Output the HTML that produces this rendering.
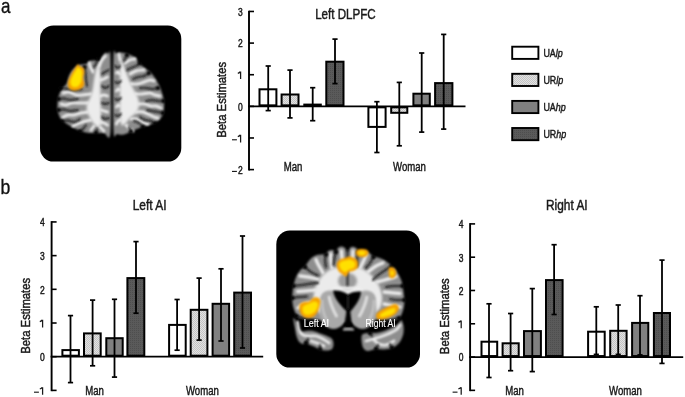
<!DOCTYPE html>
<html><head><meta charset="utf-8"><style>
html,body{margin:0;padding:0;background:#fff;}
svg{display:block;filter:blur(0.35px);}
text{font-family:"Liberation Sans", sans-serif;}
.t{opacity:0.999}
</style></head><body>
<svg width="685" height="397" viewBox="0 0 685 397">

<defs>
<pattern id="hatch" width="2" height="2" patternUnits="userSpaceOnUse">
 <rect width="2" height="2" fill="#e2e2e2"/><rect width="1" height="1" fill="#c4c4c4"/><rect x="1" y="1" width="1" height="1" fill="#c4c4c4"/>
</pattern>
<pattern id="dark" width="2" height="2" patternUnits="userSpaceOnUse">
 <rect width="2" height="2" fill="#5a5a5a"/><rect width="1" height="1" fill="#4e4e4e"/>
</pattern>
<filter id="bl1" x="-20%" y="-20%" width="140%" height="140%"><feGaussianBlur stdDeviation="0.8"/></filter>
<filter id="bl2" x="-20%" y="-20%" width="140%" height="140%"><feGaussianBlur stdDeviation="1.5"/></filter>
<filter id="bl3" x="-30%" y="-30%" width="160%" height="160%"><feGaussianBlur stdDeviation="2.2"/></filter>
<radialGradient id="og" cx="50%" cy="50%" r="50%">
 <stop offset="0" stop-color="#ffe000"/><stop offset="0.6" stop-color="#ffc800"/><stop offset="1" stop-color="#f59a00"/>
</radialGradient>
</defs>

<rect width="685" height="397" fill="#fff"/>
<text x="0.9" y="12.8" font-size="20" fill="#111" stroke="#111" stroke-width="0.35" transform="translate(0.9,0) scale(0.85,1) translate(-0.9,0)" opacity="0.999">a</text>
<text x="0.6" y="194.2" font-size="20" fill="#111" stroke="#111" stroke-width="0.35" transform="translate(0.6,0) scale(0.88,1) translate(-0.6,0)" opacity="0.999">b</text>
<rect x="40" y="25.4" width="141.3" height="136.2" rx="13.5" fill="#000"/>
<g filter="url(#bl1)">
<path d="M110.5,58 C110.2,44.9 109.4,54.3 108.5,53.5 C107.6,52.7 106.1,52.4 105.0,53.0 C103.9,53.6 103.0,55.7 102.0,57.0 C101.0,58.3 100.2,60.4 99.0,61.0 C97.8,61.6 96.5,60.5 95.0,60.5 C93.5,60.5 91.5,60.4 90.0,61.0 C88.5,61.6 87.8,63.3 86.0,64.0 C84.2,64.7 81.2,64.1 79.0,65.0 C76.8,65.9 74.7,67.7 73.0,69.5 C71.3,71.3 70.0,73.8 69.0,76.0 C68.0,78.2 68.1,80.9 67.0,83.0 C65.9,85.1 63.8,86.5 62.5,88.5 C61.2,90.5 59.8,92.4 59.0,95.0 C58.2,97.6 57.7,101.2 57.5,104.0 C57.3,106.8 57.4,109.5 58.0,112.0 C58.6,114.5 59.5,117.0 61.0,119.0 C62.5,121.0 64.5,122.3 67.0,124.0 C69.5,125.7 72.8,127.6 76.0,129.0 C79.2,130.4 82.7,131.8 86.0,132.5 C89.3,133.2 93.0,132.9 96.0,133.0 C99.0,133.1 101.6,133.2 104.0,133.0 C106.4,132.8 109.4,144.5 110.5,132.0 C111.6,119.5 110.8,71.1 110.5,58.0 Z" fill="#8e8e8e"/>
<path d="M113.5,57 C113.9,44.2 114.8,54.2 116.0,53.5 C117.2,52.8 119.0,52.4 121.0,52.5 C123.0,52.6 125.7,53.2 128.0,54.0 C130.3,54.8 133.2,56.0 135.0,57.5 C136.8,59.0 137.5,61.3 139.0,63.0 C140.5,64.7 142.2,66.0 144.0,67.5 C145.8,69.0 148.2,70.2 150.0,72.0 C151.8,73.8 153.5,75.8 155.0,78.0 C156.5,80.2 157.8,82.5 159.0,85.0 C160.2,87.5 161.2,90.2 162.0,93.0 C162.8,95.8 163.8,98.8 164.0,102.0 C164.2,105.2 164.2,109.2 163.5,112.0 C162.8,114.8 161.9,117.0 160.0,119.0 C158.1,121.0 155.0,122.7 152.0,124.0 C149.0,125.3 145.2,125.9 142.0,127.0 C138.8,128.1 136.0,129.2 133.0,130.5 C130.0,131.8 126.7,133.9 124.0,134.5 C121.3,135.1 118.8,134.8 117.0,134.0 C115.2,133.2 114.1,142.8 113.5,130.0 C112.9,117.2 113.1,69.8 113.5,57.0 Z" fill="#8e8e8e"/>
</g>
<g filter="url(#bl2)">
<path d="M99,63 C98.2,62.0 96.8,67.2 96.0,70.0 C95.2,72.8 94.6,76.7 94.0,80.0 C93.4,83.3 93.2,87.0 92.5,90.0 C91.8,93.0 90.9,95.7 90.0,98.0 C89.1,100.3 87.5,101.8 87.0,104.0 C86.5,106.2 86.5,108.7 87.0,111.0 C87.5,113.3 88.8,115.8 90.0,118.0 C91.2,120.2 92.7,122.5 94.0,124.0 C95.3,125.5 96.8,127.0 98.0,127.0 C99.2,127.0 100.5,126.8 101.0,124.0 C101.5,121.2 101.1,115.3 101.0,110.0 C100.9,104.7 100.6,97.7 100.5,92.0 C100.4,86.3 100.8,80.8 100.5,76.0 C100.2,71.2 99.8,64.0 99.0,63.0 Z" fill="#ececec"/><path d="M121,59 C121.7,58.0 123.0,63.5 124.0,66.0 C125.0,68.5 126.0,71.3 127.0,74.0 C128.0,76.7 128.8,79.3 130.0,82.0 C131.2,84.7 132.7,87.3 134.0,90.0 C135.3,92.7 137.2,95.3 138.0,98.0 C138.8,100.7 139.3,103.5 139.0,106.0 C138.7,108.5 137.5,111.0 136.0,113.0 C134.5,115.0 131.8,116.2 130.0,118.0 C128.2,119.8 126.5,123.0 125.0,124.0 C123.5,125.0 121.8,126.7 121.0,124.0 C120.2,121.3 120.2,113.7 120.0,108.0 C119.8,102.3 120.0,96.0 120.0,90.0 C120.0,84.0 119.8,77.2 120.0,72.0 C120.2,66.8 120.3,60.0 121.0,59.0 Z" fill="#ececec"/>
</g>
<g filter="url(#bl1)" fill="none" stroke="#ececec" stroke-linecap="round" stroke-linejoin="round">
<path d="M99,66 C99.5,65.0 100.9,61.7 102.0,60.0 C103.1,58.3 104.9,56.7 105.5,56.0  M93,72 C92.5,71.0 90.6,67.5 90.0,66.0 C89.4,64.5 89.6,63.5 89.5,63.0  M91,94 C89.5,94.2 84.5,94.8 82.0,95.0 C79.5,95.2 78.2,95.5 76.0,95.0 C73.8,94.5 71.2,92.3 69.0,92.0 C66.8,91.7 64.0,92.8 63.0,93.0  M88,103 C86.7,103.0 82.7,103.0 80.0,103.0 C77.3,103.0 74.3,102.7 72.0,103.0 C69.7,103.3 67.8,104.8 66.0,105.0 C64.2,105.2 61.8,104.2 61.0,104.0  M88,112 C86.8,112.2 83.3,112.5 81.0,113.0 C78.7,113.5 76.2,114.7 74.0,115.0 C71.8,115.3 69.8,114.7 68.0,115.0 C66.2,115.3 63.8,116.7 63.0,117.0  M91,120 C90.2,120.2 87.8,120.5 86.0,121.0 C84.2,121.5 82.2,122.2 80.0,123.0 C77.8,123.8 74.2,125.5 73.0,126.0  M94,126 L91,130 M100,127 L104,131 M100,80 C100.7,79.8 102.8,79.5 104.0,79.0 C105.2,78.5 106.9,77.3 107.5,77.0  M100,96 C100.7,95.8 102.8,95.0 104.0,95.0 C105.2,95.0 106.9,95.8 107.5,96.0  M101,110 C101.5,110.2 102.9,110.7 104.0,111.0 C105.1,111.3 106.9,111.8 107.5,112.0  M100,122 C100.7,122.2 102.8,122.5 104.0,123.0 C105.2,123.5 106.9,124.7 107.5,125.0 " stroke-width="2.9"/><path d="M120,60 L119,54.5 M125,63 C125.8,62.5 128.3,60.7 130.0,60.0 C131.7,59.3 134.2,59.2 135.0,59.0  M130,74 C131.0,73.5 133.7,71.7 136.0,71.0 C138.3,70.3 142.7,70.2 144.0,70.0  M131,84 C132.0,84.0 134.8,84.3 137.0,84.0 C139.2,83.7 141.8,82.7 144.0,82.0 C146.2,81.3 148.3,80.2 150.0,80.0 C151.7,79.8 153.3,80.8 154.0,81.0  M135,94 C136.2,94.0 139.5,94.2 142.0,94.0 C144.5,93.8 147.8,92.8 150.0,93.0 C152.2,93.2 153.3,94.5 155.0,95.0 C156.7,95.5 159.2,95.8 160.0,96.0  M138,104 C139.2,104.0 142.8,103.7 145.0,104.0 C147.2,104.3 149.2,105.7 151.0,106.0 C152.8,106.3 154.3,105.7 156.0,106.0 C157.7,106.3 160.2,107.7 161.0,108.0  M136,112 C137.2,112.0 140.7,111.5 143.0,112.0 C145.3,112.5 148.2,114.2 150.0,115.0 C151.8,115.8 152.7,116.5 154.0,117.0 C155.3,117.5 157.3,117.8 158.0,118.0  M131,119 C131.8,119.0 134.2,118.5 136.0,119.0 C137.8,119.5 140.0,121.2 142.0,122.0 C144.0,122.8 147.0,123.7 148.0,124.0  M126,125 C126.7,125.7 128.8,128.0 130.0,129.0 C131.2,130.0 132.5,130.7 133.0,131.0  M120,74 C119.7,73.7 118.6,72.2 118.0,72.0 C117.4,71.8 116.8,72.8 116.5,73.0  M120,90 C119.7,89.8 118.6,88.8 118.0,89.0 C117.4,89.2 116.8,90.7 116.5,91.0  M120,106 C119.7,105.8 118.6,104.8 118.0,105.0 C117.4,105.2 116.8,106.7 116.5,107.0  M121,120 C120.5,120.2 118.8,120.3 118.0,121.0 C117.2,121.7 116.8,123.5 116.5,124.0 " stroke-width="2.9"/>
</g>
<g filter="url(#bl1)" fill="none" stroke="#1e1e1e" stroke-linecap="round" stroke-linejoin="round" stroke-width="1.9">
<path d="M60,88 C61.0,88.1 63.7,88.2 66.0,88.5 C68.3,88.8 71.3,89.9 74.0,90.0 C76.7,90.1 80.7,89.2 82.0,89.0  M58.5,99 C59.4,98.9 62.1,98.3 64.0,98.5 C65.9,98.7 67.7,99.9 70.0,100.0 C72.3,100.1 76.7,99.2 78.0,99.0  M58.5,110 C59.4,109.9 62.1,109.3 64.0,109.5 C65.9,109.7 67.7,110.9 70.0,111.0 C72.3,111.1 76.7,110.2 78.0,110.0  M62,121.5 C63.0,121.3 66.0,120.4 68.0,120.5 C70.0,120.6 72.0,122.2 74.0,122.0 C76.0,121.8 79.0,119.5 80.0,119.0  M80,131.5 C80.7,130.9 83.0,129.1 84.0,128.0 C85.0,126.9 85.7,125.5 86.0,125.0  M84.5,67 C84.7,68.2 85.2,71.8 85.5,74.0 C85.8,76.2 85.8,78.0 86.0,80.0 C86.2,82.0 86.8,85.0 87.0,86.0  M98,58 C97.7,59.0 96.7,62.5 96.0,64.0 C95.3,65.5 94.3,66.5 94.0,67.0  M96,133 L97,129 M109,70 C108.3,70.3 106.2,71.3 105.0,72.0 C103.8,72.7 102.5,73.7 102.0,74.0  M109,86 C108.3,86.3 106.2,88.0 105.0,88.0 C103.8,88.0 102.5,86.3 102.0,86.0  M109,103 C108.3,103.2 106.2,104.0 105.0,104.0 C103.8,104.0 102.5,103.2 102.0,103.0  M109,118 C108.3,118.2 106.2,119.2 105.0,119.0 C103.8,118.8 102.5,117.3 102.0,117.0 "/><path d="M127,55 L124,61 M140,63 C139.3,63.5 137.5,65.2 136.0,66.0 C134.5,66.8 132.5,67.3 131.0,68.0 C129.5,68.7 127.7,69.7 127.0,70.0  M149,73 C148.2,73.5 145.8,75.3 144.0,76.0 C142.2,76.7 139.8,76.5 138.0,77.0 C136.2,77.5 133.8,78.7 133.0,79.0  M158,88 C157.2,88.2 155.0,89.0 153.0,89.0 C151.0,89.0 148.2,88.2 146.0,88.0 C143.8,87.8 141.0,88.0 140.0,88.0  M163.5,101 C162.6,101.0 159.9,101.2 158.0,101.0 C156.1,100.8 154.0,100.0 152.0,100.0 C150.0,100.0 147.0,100.8 146.0,101.0  M163,113 C162.2,112.8 159.8,112.3 158.0,112.0 C156.2,111.7 153.8,111.3 152.0,111.0 C150.2,110.7 147.8,110.2 147.0,110.0  M155,123.5 C154.3,123.1 152.7,121.6 151.0,121.0 C149.3,120.4 146.8,120.7 145.0,120.0 C143.2,119.3 140.8,117.5 140.0,117.0  M143,127 C142.3,126.3 140.5,124.0 139.0,123.0 C137.5,122.0 134.8,121.3 134.0,121.0  M131,131.5 L129,127 M115,66 C115.5,66.3 117.2,68.0 118.0,68.0 C118.8,68.0 119.7,66.3 120.0,66.0  M115,82 C115.5,82.2 117.0,83.2 118.0,83.0 C119.0,82.8 120.5,81.3 121.0,81.0  M115,99 C115.5,99.2 117.0,100.2 118.0,100.0 C119.0,99.8 120.5,98.3 121.0,98.0  M115,115 C115.5,115.2 117.0,116.2 118.0,116.0 C119.0,115.8 120.5,114.3 121.0,114.0 "/>
</g>
<g filter="url(#bl1)" fill="#000"><circle cx="60" cy="88" r="2.1"/><circle cx="58.5" cy="99" r="2.1"/><circle cx="58.5" cy="110" r="2.1"/><circle cx="62" cy="121.5" r="2.1"/><circle cx="80" cy="131.5" r="2.1"/><circle cx="84.5" cy="67" r="2.1"/><circle cx="98" cy="58" r="2.1"/><circle cx="96" cy="133" r="2.1"/><circle cx="127" cy="55" r="2.1"/><circle cx="140" cy="63" r="2.1"/><circle cx="149" cy="73" r="2.1"/><circle cx="158" cy="88" r="2.1"/><circle cx="163.5" cy="101" r="2.1"/><circle cx="163" cy="113" r="2.1"/><circle cx="155" cy="123.5" r="2.1"/><circle cx="143" cy="127" r="2.1"/><circle cx="131" cy="131.5" r="2.1"/></g>
<path d="M112,52 L112,138" stroke="#000" stroke-width="2.4" filter="url(#bl1)"/>
<g filter="url(#bl1)">
<path d="M78,64.2 C78.8,64.0 79.1,65.9 80.0,66.5 C80.9,67.1 82.8,66.9 83.5,68.0 C84.2,69.1 84.3,71.3 84.3,73.0 C84.2,74.7 83.2,76.2 83.2,78.0 C83.2,79.8 84.5,82.3 84.3,84.0 C84.1,85.7 83.2,87.0 82.0,88.0 C80.8,89.0 78.7,89.9 77.0,90.3 C75.3,90.7 73.4,90.8 72.0,90.3 C70.6,89.8 69.2,88.9 68.5,87.5 C67.8,86.1 67.8,83.8 68.0,82.0 C68.2,80.2 69.2,78.7 70.0,77.0 C70.8,75.3 71.6,73.6 72.5,72.0 C73.4,70.4 74.6,68.8 75.5,67.5 C76.4,66.2 77.2,64.4 78.0,64.2 Z" fill="#f5a000"/>
<path d="M78,67.5 C79.0,67.4 80.9,69.1 81.5,70.5 C82.1,71.9 81.9,74.1 81.8,76.0 C81.7,77.9 81.7,80.2 81.0,82.0 C80.3,83.8 78.9,85.8 77.5,86.5 C76.1,87.2 73.7,87.2 72.5,86.5 C71.3,85.8 70.5,83.8 70.5,82.0 C70.5,80.2 71.7,77.8 72.5,76.0 C73.3,74.2 74.6,72.4 75.5,71.0 C76.4,69.6 77.0,67.6 78.0,67.5 Z" fill="#ffe400"/>
</g>
<rect x="276.3" y="230.6" width="143.7" height="137" rx="13.5" fill="#000"/>
<g filter="url(#bl1)">
<path d="M347.5,252 C348.3,252.0 349.1,248.9 350.0,248.0 C350.9,247.1 351.9,246.7 353.0,246.8 C354.1,246.9 355.6,247.7 356.5,248.5 C357.4,249.3 357.6,251.2 358.5,251.5 C359.4,251.8 360.8,250.5 362.0,250.5 C363.2,250.5 364.7,250.8 366.0,251.3 C367.3,251.8 368.8,252.6 370.0,253.5 C371.2,254.4 371.7,255.8 373.0,256.5 C374.3,257.2 376.2,256.9 378.0,257.5 C379.8,258.1 382.2,259.0 384.0,260.0 C385.8,261.0 387.8,262.4 389.0,263.5 C390.2,264.6 390.5,265.5 391.5,266.5 C392.5,267.5 393.8,268.0 395.0,269.5 C396.2,271.0 397.9,273.6 399.0,275.5 C400.1,277.4 400.9,279.2 401.5,281.0 C402.1,282.8 402.2,284.2 402.5,286.0 C402.8,287.8 403.2,289.7 403.5,292.0 C403.8,294.3 404.2,297.7 404.3,300.0 C404.4,302.3 404.3,304.0 404.0,306.0 C403.7,308.0 403.2,310.2 402.5,312.0 C401.8,313.8 401.1,315.8 400.0,317.0 C398.9,318.2 398.3,319.1 396.0,319.5 C393.7,319.9 389.3,319.5 386.0,319.5 C382.7,319.5 379.3,319.2 376.0,319.5 C372.7,319.8 369.3,320.6 366.0,321.0 C362.7,321.4 359.0,321.8 356.0,322.0 C353.0,322.2 350.7,322.0 348.0,322.0 C345.3,322.0 343.0,322.2 340.0,322.0 C337.0,321.8 333.3,321.3 330.0,321.0 C326.7,320.7 323.3,320.4 320.0,320.0 C316.7,319.6 312.8,318.8 310.0,318.5 C307.2,318.2 305.0,318.8 303.0,318.5 C301.0,318.2 299.2,317.9 298.0,317.0 C296.8,316.1 296.3,314.8 295.5,313.0 C294.7,311.2 293.5,308.3 293.0,306.0 C292.5,303.7 292.4,301.3 292.3,299.0 C292.2,296.7 292.4,294.2 292.6,292.0 C292.8,289.8 293.1,288.0 293.5,286.0 C293.9,284.0 294.4,281.8 295.0,280.0 C295.6,278.2 296.1,276.7 297.0,275.0 C297.9,273.3 299.2,271.4 300.5,270.0 C301.8,268.6 303.8,267.8 305.0,266.5 C306.2,265.2 306.8,263.5 308.0,262.0 C309.2,260.5 310.5,258.7 312.0,257.5 C313.5,256.3 315.3,255.5 317.0,255.0 C318.7,254.5 320.5,254.7 322.0,254.5 C323.5,254.3 325.0,254.5 326.0,254.0 C327.0,253.5 327.1,252.2 327.8,251.5 C328.6,250.8 329.6,250.2 330.5,250.0 C331.4,249.8 332.6,249.9 333.5,250.3 C334.4,250.7 335.1,252.9 335.8,252.5 C336.6,252.1 337.1,249.0 338.0,248.0 C338.9,247.0 340.3,246.5 341.5,246.5 C342.7,246.5 344.0,247.1 345.0,248.0 C346.0,248.9 346.7,252.0 347.5,252.0 Z" fill="#8e8e8e"/>
<path d="M294.5,318 C295.1,319.0 296.1,323.8 297.0,326.0 C297.9,328.2 298.5,330.7 300.0,331.5 C301.5,332.3 303.8,331.1 306.0,331.0 C308.2,330.9 310.7,330.6 313.0,331.0 C315.3,331.4 317.7,332.7 320.0,333.5 C322.3,334.3 325.0,335.1 327.0,336.0 C329.0,336.9 330.9,337.7 332.0,339.0 C333.1,340.3 333.5,342.3 333.5,344.0 C333.5,345.7 333.1,347.9 332.0,349.0 C330.9,350.1 329.0,350.4 327.0,350.5 C325.0,350.6 322.2,350.2 320.0,349.5 C317.8,348.8 315.8,347.3 314.0,346.5 C312.2,345.7 310.3,345.2 309.0,344.5 C307.7,343.8 307.0,342.6 306.0,342.5 C305.0,342.4 304.2,344.2 303.0,344.0 C301.8,343.8 300.1,342.8 299.0,341.5 C297.9,340.2 297.2,338.2 296.5,336.0 C295.8,333.8 295.5,330.7 295.0,328.0 C294.5,325.3 293.6,321.7 293.5,320.0 C293.4,318.3 293.9,317.0 294.5,318.0 Z" fill="#8e8e8e"/>
<path d="M362,335 C363.0,333.2 365.7,333.3 368.0,333.0 C370.3,332.7 373.3,333.3 376.0,333.0 C378.7,332.7 381.3,331.9 384.0,331.0 C386.7,330.1 389.7,328.6 392.0,327.5 C394.3,326.4 396.5,325.8 398.0,324.5 C399.5,323.2 400.1,319.8 401.0,320.0 C401.9,320.2 403.2,323.5 403.5,326.0 C403.8,328.5 403.8,332.2 403.0,335.0 C402.2,337.8 400.8,340.8 399.0,343.0 C397.2,345.2 394.5,346.9 392.0,348.0 C389.5,349.1 386.7,349.3 384.0,349.5 C381.3,349.7 378.7,348.8 376.0,349.0 C373.3,349.2 370.0,351.0 368.0,351.0 C366.0,351.0 365.0,350.2 364.0,349.0 C363.0,347.8 362.3,346.3 362.0,344.0 C361.7,341.7 361.0,336.8 362.0,335.0 Z" fill="#8e8e8e"/>
</g>
<g filter="url(#bl2)">
<path d="M318,282 C319.7,279.0 321.3,276.3 324.0,274.0 C326.7,271.7 330.2,269.2 334.0,268.0 C337.8,266.8 342.7,267.0 347.0,267.0 C351.3,267.0 356.2,266.8 360.0,268.0 C363.8,269.2 367.0,271.3 370.0,274.0 C373.0,276.7 376.0,280.3 378.0,284.0 C380.0,287.7 381.7,292.0 382.0,296.0 C382.3,300.0 381.7,305.0 380.0,308.0 C378.3,311.0 375.0,312.7 372.0,314.0 C369.0,315.3 366.2,315.5 362.0,316.0 C357.8,316.5 352.0,317.0 347.0,317.0 C342.0,317.0 336.5,316.7 332.0,316.0 C327.5,315.3 323.0,314.8 320.0,313.0 C317.0,311.2 315.0,308.5 314.0,305.0 C313.0,301.5 313.3,295.8 314.0,292.0 C314.7,288.2 316.3,285.0 318.0,282.0 Z" fill="#ebebeb"/>
</g>
<g filter="url(#bl1)" fill="none" stroke="#eaeaea" stroke-linecap="round" stroke-linejoin="round" stroke-width="3.4">
<path d="M344,268 C343.7,266.3 342.4,260.8 342.0,258.0 C341.6,255.2 341.6,252.2 341.5,251.0  M332,268 C331.8,266.5 331.0,261.3 330.8,259.0 C330.6,256.7 330.8,254.8 330.8,254.0  M323,273 C322.2,271.5 319.2,266.2 318.0,264.0 C316.8,261.8 316.3,260.2 316.0,259.5  M318,279 C316.3,278.7 311.0,277.5 308.0,277.0 C305.0,276.5 301.3,276.2 300.0,276.0  M316,290 C314.2,290.2 308.1,290.8 305.0,291.0 C301.9,291.2 298.8,291.4 297.5,291.5  M314,302 C312.3,302.3 306.7,303.0 304.0,304.0 C301.3,305.0 299.0,307.3 298.0,308.0  M351,268 C351.2,266.3 352.2,260.8 352.5,258.0 C352.8,255.2 352.9,252.2 353.0,251.0  M360,268 C360.7,266.7 363.0,262.2 364.0,260.0 C365.0,257.8 365.7,255.8 366.0,255.0  M368,272 C369.3,271.0 373.5,267.5 376.0,266.0 C378.5,264.5 381.8,263.5 383.0,263.0  M377,282 C378.8,281.5 384.8,279.9 388.0,279.0 C391.2,278.1 394.7,276.9 396.0,276.5  M384,292 C385.7,292.2 391.3,292.8 394.0,293.0 C396.7,293.2 399.0,293.4 400.0,293.5  M384,304 C385.7,304.3 391.3,305.5 394.0,306.0 C396.7,306.5 399.0,306.8 400.0,307.0 "/><path d="M297.5,322 C297.8,323.3 298.1,327.8 299.0,330.0 C299.9,332.2 301.3,334.0 303.0,335.0 C304.7,336.0 306.8,335.8 309.0,336.0 C311.2,336.2 313.7,335.5 316.0,336.0 C318.3,336.5 320.8,337.8 323.0,339.0 C325.2,340.2 328.0,342.3 329.0,343.0  M311,341 C312.0,341.3 314.8,342.2 317.0,343.0 C319.2,343.8 322.8,345.5 324.0,346.0  M366,341 C367.2,340.7 370.7,339.7 373.0,339.0 C375.3,338.3 377.5,337.8 380.0,337.0 C382.5,336.2 385.3,335.2 388.0,334.0 C390.7,332.8 394.0,331.5 396.0,330.0 C398.0,328.5 399.3,325.8 400.0,325.0  M374,340 C374.8,340.7 377.0,343.2 379.0,344.0 C381.0,344.8 383.5,345.5 386.0,345.0 C388.5,344.5 392.7,341.7 394.0,341.0 " stroke-width="2.8"/>
</g>
<g filter="url(#bl2)">
<ellipse cx="347.5" cy="281" rx="9.5" ry="8" fill="#9c9c9c"/>
</g>
<g filter="url(#bl1)" fill="none" stroke="#1c1c1c" stroke-linecap="round" stroke-linejoin="round" stroke-width="2">
<path d="M336,252 C335.8,253.0 334.9,255.8 334.5,258.0 C334.1,260.2 333.7,263.8 333.5,265.0  M326,254.5 C325.8,255.4 325.0,257.9 325.0,260.0 C325.0,262.1 325.8,265.8 326.0,267.0  M305,267 C306.0,267.8 308.8,270.6 311.0,272.0 C313.2,273.4 316.8,274.9 318.0,275.5  M293.5,286 C294.9,285.8 298.9,285.4 302.0,285.0 C305.1,284.6 309.3,283.8 312.0,283.5 C314.7,283.2 317.0,283.1 318.0,283.0  M292.4,298 C293.7,297.8 297.6,297.2 300.0,297.0 C302.4,296.8 305.8,296.6 307.0,296.5  M296,316 C297.3,316.3 301.3,317.3 304.0,318.0 C306.7,318.7 310.7,319.7 312.0,320.0  M358.5,252 C358.2,253.3 357.2,257.7 357.0,260.0 C356.8,262.3 357.0,265.0 357.0,266.0  M373.5,257 C372.9,258.0 371.2,261.2 370.0,263.0 C368.8,264.8 366.7,267.2 366.0,268.0  M391.5,266.5 C390.2,267.2 386.4,269.4 384.0,271.0 C381.6,272.6 378.8,274.5 377.0,276.0 C375.2,277.5 373.7,279.3 373.0,280.0  M402.5,286 C401.1,286.0 396.8,285.8 394.0,286.0 C391.2,286.2 387.3,286.8 386.0,287.0  M404.3,300 C402.9,300.0 398.4,300.2 396.0,300.0 C393.6,299.8 391.0,299.2 390.0,299.0  M399,318 C397.8,318.3 394.5,319.3 392.0,320.0 C389.5,320.7 385.3,321.7 384.0,322.0 "/><path d="M306,343 L308,339 M320,349.5 L320,345 M376,349 L378,345 M392,348 L390,344 M370,333 L372,336"/>
</g>
<g filter="url(#bl1)" fill="#000"><circle cx="336" cy="252" r="2.1"/><circle cx="326" cy="254.5" r="2.1"/><circle cx="305" cy="267" r="2.1"/><circle cx="293.5" cy="286" r="2.1"/><circle cx="292.4" cy="298" r="2.1"/><circle cx="296" cy="316" r="2.1"/><circle cx="358.5" cy="252" r="2.1"/><circle cx="373.5" cy="257" r="2.1"/><circle cx="391.5" cy="266.5" r="2.1"/><circle cx="402.5" cy="286" r="2.1"/><circle cx="404.3" cy="300" r="2.1"/><circle cx="399" cy="318" r="2.1"/><circle cx="306" cy="343" r="2.1"/><circle cx="320" cy="349.5" r="2.1"/><circle cx="376" cy="349" r="2.1"/><circle cx="392" cy="348" r="2.1"/><circle cx="370" cy="333" r="2.1"/></g>
<g filter="url(#bl1)">
<path d="M320,300 C320,292 328,288 336,292 C342,296 346,304 346,314 C346,322 342,328 334,329 C326,329 321,322 319.5,314 Z" fill="#a9a9a9"/>
<path d="M376,300 C376,292 368,288 360,292 C354,296 350,304 350,314 C350,322 354,328 362,329 C370,329 375,322 376.5,314 Z" fill="#a9a9a9"/>
<path d="M329,296 C330,303 333,310 337,317" stroke="#e2e2e2" stroke-width="2.6" fill="none"/>
<path d="M367,296 C366,303 363,310 359,317" stroke="#e2e2e2" stroke-width="2.6" fill="none"/>
<path d="M322,300 C322,308 324,316 328,322" stroke="#c8c8c8" stroke-width="2" fill="none"/>
<path d="M374,300 C374,308 372,316 368,322" stroke="#c8c8c8" stroke-width="2" fill="none"/>
<path d="M334,289 C340,287.5 355,287.5 361,289.5" stroke="#f0f0f0" stroke-width="2.4" fill="none"/>
</g>
<g filter="url(#bl1)">
<path d="M333,290.5 C340,290 345,292 348,294.5 C351,292 356,291 361,291.5 C361,298 356,305 351,311 L348.5,313 L346,311 C340,305 334,298 333,290.5 Z" fill="#000"/>
<path d="M348,296 L348,309" stroke="#3a3a3a" stroke-width="1.1"/>
<path d="M346,311 L344.5,329 L352,329 L350.5,311 Z" fill="#000"/>
<path d="M347.5,249 L347.5,286" stroke="#151515" stroke-width="1.8"/>
<path d="M343,329.5 L354,329.5" stroke="#e8e8e8" stroke-width="1.6"/>
</g>
<g filter="url(#bl1)">
<path d="M337.5,262 C338.2,260.8 339.8,259.7 341.0,259.0 C342.2,258.3 343.7,258.4 345.0,258.0 C346.3,257.6 347.7,256.6 349.0,256.5 C350.3,256.4 351.8,257.1 353.0,257.5 C354.2,257.9 355.2,258.2 356.0,259.0 C356.8,259.8 357.8,261.0 358.0,262.5 C358.2,264.0 358.3,266.6 357.5,268.0 C356.7,269.4 354.4,270.3 353.0,271.0 C351.6,271.7 350.2,271.1 349.0,272.0 C347.8,272.9 347.2,276.2 346.0,276.5 C344.8,276.8 343.2,274.9 342.0,274.0 C340.8,273.1 339.4,272.3 338.5,271.0 C337.6,269.7 337.0,267.5 336.8,266.0 C336.6,264.5 336.8,263.2 337.5,262.0 Z" fill="#f6a200"/>
<path d="M341,262 C342.1,261.2 344.3,260.8 346.0,260.5 C347.7,260.2 349.5,259.6 351.0,260.0 C352.5,260.4 354.5,261.8 355.0,263.0 C355.5,264.2 355.0,266.4 354.0,267.5 C353.0,268.6 350.5,268.8 349.0,269.5 C347.5,270.2 346.3,272.1 345.0,272.0 C343.7,271.9 341.9,270.2 341.0,269.0 C340.1,267.8 339.5,266.2 339.5,265.0 C339.5,263.8 339.9,262.8 341.0,262.0 Z" fill="#ffe000"/>
<path d="M356,251 C356.6,250.0 358.3,249.2 360.0,249.0 C361.7,248.8 364.6,248.9 366.0,249.5 C367.4,250.1 368.5,251.3 368.5,252.5 C368.5,253.7 367.4,255.8 366.0,256.5 C364.6,257.2 361.6,257.2 360.0,257.0 C358.4,256.8 357.2,256.0 356.5,255.0 C355.8,254.0 355.4,252.0 356.0,251.0 Z" fill="#f6a200"/>
<path d="M359,251.5 C359.8,251.1 362.9,251.2 364.0,251.5 C365.1,251.8 365.8,252.9 365.5,253.5 C365.2,254.1 363.1,254.9 362.0,255.0 C360.9,255.1 359.5,254.6 359.0,254.0 C358.5,253.4 358.2,251.9 359.0,251.5 Z" fill="#ffe000"/>
<path d="M389,268 C389.7,266.6 391.8,267.0 393.0,267.5 C394.2,268.0 395.6,269.6 396.0,271.0 C396.4,272.4 396.2,274.8 395.5,276.0 C394.8,277.2 393.1,278.5 392.0,278.5 C390.9,278.5 389.5,277.8 389.0,276.0 C388.5,274.2 388.3,269.4 389.0,268.0 Z" fill="#f6a200"/>
<path d="M391,270.5 C391.4,270.0 393.2,271.2 393.5,272.0 C393.8,272.8 393.4,274.5 393.0,275.0 C392.6,275.5 391.3,275.8 391.0,275.0 C390.7,274.2 390.6,271.0 391.0,270.5 Z" fill="#ffe000"/>
<path d="M299.5,305 C300.1,303.2 302.4,302.6 304.0,302.0 C305.6,301.4 307.5,302.2 309.0,301.5 C310.5,300.8 311.6,298.7 313.0,298.0 C314.4,297.3 316.2,297.1 317.5,297.5 C318.8,297.9 320.2,298.9 320.5,300.5 C320.8,302.1 320.1,304.9 319.5,307.0 C318.9,309.1 318.2,311.2 317.0,313.0 C315.8,314.8 314.0,316.8 312.0,317.5 C310.0,318.2 306.9,318.2 305.0,317.5 C303.1,316.8 301.4,315.1 300.5,313.0 C299.6,310.9 298.9,306.8 299.5,305.0 Z" fill="#f6a200"/>
<path d="M303,307 C303.8,305.4 306.6,304.9 308.5,304.0 C310.4,303.1 312.9,301.5 314.5,301.5 C316.1,301.5 317.8,302.4 318.0,304.0 C318.2,305.6 316.9,309.2 315.5,311.0 C314.1,312.8 311.4,314.1 309.5,314.5 C307.6,314.9 305.1,314.8 304.0,313.5 C302.9,312.2 302.2,308.6 303.0,307.0 Z" fill="#ffe000"/>
<path d="M376.5,314 C377.2,312.6 379.5,311.2 381.5,310.0 C383.5,308.8 386.2,307.5 388.5,306.5 C390.8,305.5 393.3,303.9 395.0,304.0 C396.7,304.1 398.6,305.5 398.8,307.0 C399.1,308.5 398.1,311.2 396.5,313.0 C394.9,314.8 391.9,316.4 389.5,317.5 C387.1,318.6 384.1,319.3 382.0,319.5 C379.9,319.7 377.9,319.4 377.0,318.5 C376.1,317.6 375.8,315.4 376.5,314.0 Z" fill="#f6a200"/>
<path d="M380,315 C380.5,314.1 383.2,312.5 385.0,311.5 C386.8,310.5 389.3,309.5 391.0,309.0 C392.7,308.5 394.5,307.9 395.0,308.5 C395.5,309.1 395.2,311.3 394.0,312.5 C392.8,313.7 390.0,314.8 388.0,315.5 C386.0,316.2 383.3,317.1 382.0,317.0 C380.7,316.9 379.5,315.9 380.0,315.0 Z" fill="#ffe000"/>
</g>
<text transform="translate(303.8,327.3) scale(0.85,1)" font-size="10.5" fill="#fff" stroke="#fff" stroke-width="0.15" opacity="0.999">Left AI</text>
<text transform="translate(365.6,327.3) scale(0.82,1)" font-size="10.5" fill="#fff" stroke="#fff" stroke-width="0.15" opacity="0.999">Right AI</text>
<line x1="249" y1="10.659999999999993" x2="249" y2="170.41" stroke="#000" stroke-width="1.9"/>
<line x1="249" y1="169.60999999999999" x2="254" y2="169.60999999999999" stroke="#000" stroke-width="1.6"/>
<text transform="translate(242.8,174.01) scale(0.85,1)" font-size="10" text-anchor="end" fill="#1a1a1a" stroke="#1a1a1a" stroke-width="0.45" opacity="0.999" >2</text>
<line x1="232.00" y1="171.41" x2="236.90" y2="171.41" stroke="#111" stroke-width="1.1"/>
<line x1="249" y1="137.98" x2="254" y2="137.98" stroke="#000" stroke-width="1.6"/>
<path d="M240.60,134.78 L240.60,142.38 M237.80,136.58 C239.00,136.18 239.90,135.58 240.30,134.88" stroke="#1a1a1a" stroke-width="1.25" fill="none"/>
<line x1="232.00" y1="139.78" x2="236.90" y2="139.78" stroke="#111" stroke-width="1.1"/>
<line x1="249" y1="106.35" x2="254" y2="106.35" stroke="#000" stroke-width="1.6"/>
<text transform="translate(242.8,110.75) scale(0.85,1)" font-size="10" text-anchor="end" fill="#1a1a1a" stroke="#1a1a1a" stroke-width="0.45" opacity="0.999" >0</text>
<line x1="249" y1="74.72" x2="254" y2="74.72" stroke="#000" stroke-width="1.6"/>
<path d="M240.60,71.52 L240.60,79.12 M237.80,73.32 C239.00,72.92 239.90,72.32 240.30,71.62" stroke="#1a1a1a" stroke-width="1.25" fill="none"/>
<line x1="249" y1="43.089999999999996" x2="254" y2="43.089999999999996" stroke="#000" stroke-width="1.6"/>
<text transform="translate(242.8,47.489999999999995) scale(0.85,1)" font-size="10" text-anchor="end" fill="#1a1a1a" stroke="#1a1a1a" stroke-width="0.45" opacity="0.999" >2</text>
<line x1="249" y1="11.459999999999994" x2="254" y2="11.459999999999994" stroke="#000" stroke-width="1.6"/>
<text transform="translate(242.8,15.859999999999994) scale(0.85,1)" font-size="10" text-anchor="end" fill="#1a1a1a" stroke="#1a1a1a" stroke-width="0.45" opacity="0.999" >3</text>
<rect x="259.5" y="89.3" width="16.899999999999977" height="16.049999999999997" fill="#ffffff" stroke="#000" stroke-width="2.0"/>
<rect x="281.6" y="94.5" width="16.899999999999977" height="10.849999999999994" fill="url(#hatch)" stroke="#000" stroke-width="2.0"/>
<rect x="304.3" y="104.6" width="16.5" height="0.75" fill="#808080" stroke="#000" stroke-width="2.0"/>
<rect x="326.3" y="61.7" width="17.19999999999999" height="43.64999999999999" fill="url(#dark)" stroke="#000" stroke-width="2.0"/>
<rect x="368.4" y="107.35" width="17.200000000000045" height="19.55000000000001" fill="#ffffff" stroke="#000" stroke-width="2.0"/>
<rect x="391.2" y="107.35" width="16.100000000000023" height="5.450000000000003" fill="url(#hatch)" stroke="#000" stroke-width="2.0"/>
<rect x="413.4" y="93.7" width="16.400000000000034" height="11.649999999999991" fill="#808080" stroke="#000" stroke-width="2.0"/>
<rect x="435.1" y="83.1" width="17.299999999999955" height="22.25" fill="url(#dark)" stroke="#000" stroke-width="2.0"/>
<line x1="268.2" y1="66.0" x2="268.2" y2="110.6" stroke="#000" stroke-width="1.8"/>
<line x1="265.59999999999997" y1="66.0" x2="270.8" y2="66.0" stroke="#000" stroke-width="1.7"/>
<line x1="265.59999999999997" y1="110.6" x2="270.8" y2="110.6" stroke="#000" stroke-width="1.7"/>
<line x1="290.0" y1="70.1" x2="290.0" y2="117.9" stroke="#000" stroke-width="1.8"/>
<line x1="287.4" y1="70.1" x2="292.6" y2="70.1" stroke="#000" stroke-width="1.7"/>
<line x1="287.4" y1="117.9" x2="292.6" y2="117.9" stroke="#000" stroke-width="1.7"/>
<line x1="312.7" y1="87.7" x2="312.7" y2="120.7" stroke="#000" stroke-width="1.8"/>
<line x1="310.09999999999997" y1="87.7" x2="315.3" y2="87.7" stroke="#000" stroke-width="1.7"/>
<line x1="310.09999999999997" y1="120.7" x2="315.3" y2="120.7" stroke="#000" stroke-width="1.7"/>
<line x1="335.0" y1="39.1" x2="335.0" y2="83.6" stroke="#000" stroke-width="1.8"/>
<line x1="332.4" y1="39.1" x2="337.6" y2="39.1" stroke="#000" stroke-width="1.7"/>
<line x1="332.4" y1="83.6" x2="337.6" y2="83.6" stroke="#000" stroke-width="1.7"/>
<line x1="376.9" y1="101.7" x2="376.9" y2="152.5" stroke="#000" stroke-width="1.8"/>
<line x1="374.29999999999995" y1="101.7" x2="379.5" y2="101.7" stroke="#000" stroke-width="1.7"/>
<line x1="374.29999999999995" y1="152.5" x2="379.5" y2="152.5" stroke="#000" stroke-width="1.7"/>
<line x1="399.3" y1="82.4" x2="399.3" y2="145.8" stroke="#000" stroke-width="1.8"/>
<line x1="396.7" y1="82.4" x2="401.90000000000003" y2="82.4" stroke="#000" stroke-width="1.7"/>
<line x1="396.7" y1="145.8" x2="401.90000000000003" y2="145.8" stroke="#000" stroke-width="1.7"/>
<line x1="421.7" y1="53.0" x2="421.7" y2="132.1" stroke="#000" stroke-width="1.8"/>
<line x1="419.09999999999997" y1="53.0" x2="424.3" y2="53.0" stroke="#000" stroke-width="1.7"/>
<line x1="419.09999999999997" y1="132.1" x2="424.3" y2="132.1" stroke="#000" stroke-width="1.7"/>
<line x1="443.7" y1="34.4" x2="443.7" y2="129.1" stroke="#000" stroke-width="1.8"/>
<line x1="441.09999999999997" y1="34.4" x2="446.3" y2="34.4" stroke="#000" stroke-width="1.7"/>
<line x1="441.09999999999997" y1="129.1" x2="446.3" y2="129.1" stroke="#000" stroke-width="1.7"/>
<line x1="248" y1="106.35" x2="465.5" y2="106.35" stroke="#000" stroke-width="1.8"/>
<text transform="translate(345.4,19.2) scale(0.828,1)" font-size="14" text-anchor="middle" fill="#1a1a1a" stroke="#1a1a1a" stroke-width="0.45" opacity="0.999" >Left DLPFC</text>
<text transform="translate(293,171.4) scale(0.8,1)" font-size="12" text-anchor="middle" fill="#1a1a1a" stroke="#1a1a1a" stroke-width="0.45" opacity="0.999" >Man</text>
<text transform="translate(409.5,171.4) scale(0.8,1)" font-size="12" text-anchor="middle" fill="#1a1a1a" stroke="#1a1a1a" stroke-width="0.45" opacity="0.999" >Woman</text>
<text transform="translate(226.0,99.8) rotate(-90) scale(0.925,1)" font-size="12.2" text-anchor="middle" fill="#1a1a1a" stroke="#1a1a1a" stroke-width="0.45" opacity="0.999">Beta Estimates</text>
<line x1="51.6" y1="221.14" x2="51.6" y2="391.19" stroke="#000" stroke-width="1.9"/>
<line x1="51.6" y1="390.39" x2="56.6" y2="390.39" stroke="#000" stroke-width="1.6"/>
<path d="M42.60,387.19 L42.60,394.79 M39.80,388.99 C41.00,388.59 41.90,387.99 42.30,387.29" stroke="#1a1a1a" stroke-width="1.25" fill="none"/>
<line x1="34.00" y1="392.19" x2="38.90" y2="392.19" stroke="#111" stroke-width="1.1"/>
<line x1="51.6" y1="356.7" x2="56.6" y2="356.7" stroke="#000" stroke-width="1.6"/>
<text transform="translate(44.8,361.09999999999997) scale(0.85,1)" font-size="10" text-anchor="end" fill="#1a1a1a" stroke="#1a1a1a" stroke-width="0.45" opacity="0.999" >0</text>
<line x1="51.6" y1="323.01" x2="56.6" y2="323.01" stroke="#000" stroke-width="1.6"/>
<path d="M42.60,319.81 L42.60,327.41 M39.80,321.61 C41.00,321.21 41.90,320.61 42.30,319.91" stroke="#1a1a1a" stroke-width="1.25" fill="none"/>
<line x1="51.6" y1="289.32" x2="56.6" y2="289.32" stroke="#000" stroke-width="1.6"/>
<text transform="translate(44.8,293.71999999999997) scale(0.85,1)" font-size="10" text-anchor="end" fill="#1a1a1a" stroke="#1a1a1a" stroke-width="0.45" opacity="0.999" >2</text>
<line x1="51.6" y1="255.63" x2="56.6" y2="255.63" stroke="#000" stroke-width="1.6"/>
<text transform="translate(44.8,260.03) scale(0.85,1)" font-size="10" text-anchor="end" fill="#1a1a1a" stroke="#1a1a1a" stroke-width="0.45" opacity="0.999" >3</text>
<line x1="51.6" y1="221.94" x2="56.6" y2="221.94" stroke="#000" stroke-width="1.6"/>
<text transform="translate(44.8,226.34) scale(0.85,1)" font-size="10" text-anchor="end" fill="#1a1a1a" stroke="#1a1a1a" stroke-width="0.45" opacity="0.999" >4</text>
<rect x="62.4" y="350.1" width="16.500000000000007" height="5.599999999999966" fill="#ffffff" stroke="#000" stroke-width="2.0"/>
<rect x="84.0" y="333.4" width="16.700000000000003" height="22.30000000000001" fill="url(#hatch)" stroke="#000" stroke-width="2.0"/>
<rect x="106.3" y="338.2" width="16.400000000000006" height="17.5" fill="#808080" stroke="#000" stroke-width="2.0"/>
<rect x="127.4" y="278.1" width="16.900000000000006" height="77.59999999999997" fill="url(#dark)" stroke="#000" stroke-width="2.0"/>
<rect x="169.1" y="324.9" width="16.599999999999994" height="30.80000000000001" fill="#ffffff" stroke="#000" stroke-width="2.0"/>
<rect x="190.7" y="309.8" width="16.700000000000017" height="45.89999999999998" fill="url(#hatch)" stroke="#000" stroke-width="2.0"/>
<rect x="212.6" y="303.8" width="16.5" height="51.89999999999998" fill="#808080" stroke="#000" stroke-width="2.0"/>
<rect x="234.2" y="292.6" width="16.80000000000001" height="63.099999999999966" fill="url(#dark)" stroke="#000" stroke-width="2.0"/>
<line x1="70.5" y1="315.6" x2="70.5" y2="382.6" stroke="#000" stroke-width="1.8"/>
<line x1="67.9" y1="315.6" x2="73.1" y2="315.6" stroke="#000" stroke-width="1.7"/>
<line x1="67.9" y1="382.6" x2="73.1" y2="382.6" stroke="#000" stroke-width="1.7"/>
<line x1="92.6" y1="300.1" x2="92.6" y2="365.8" stroke="#000" stroke-width="1.8"/>
<line x1="90.0" y1="300.1" x2="95.19999999999999" y2="300.1" stroke="#000" stroke-width="1.7"/>
<line x1="90.0" y1="365.8" x2="95.19999999999999" y2="365.8" stroke="#000" stroke-width="1.7"/>
<line x1="114.5" y1="299.3" x2="114.5" y2="377.1" stroke="#000" stroke-width="1.8"/>
<line x1="111.9" y1="299.3" x2="117.1" y2="299.3" stroke="#000" stroke-width="1.7"/>
<line x1="111.9" y1="377.1" x2="117.1" y2="377.1" stroke="#000" stroke-width="1.7"/>
<line x1="136.0" y1="241.6" x2="136.0" y2="313.2" stroke="#000" stroke-width="1.8"/>
<line x1="133.4" y1="241.6" x2="138.6" y2="241.6" stroke="#000" stroke-width="1.7"/>
<line x1="133.4" y1="313.2" x2="138.6" y2="313.2" stroke="#000" stroke-width="1.7"/>
<line x1="177.1" y1="299.5" x2="177.1" y2="350.2" stroke="#000" stroke-width="1.8"/>
<line x1="174.5" y1="299.5" x2="179.7" y2="299.5" stroke="#000" stroke-width="1.7"/>
<line x1="174.5" y1="350.2" x2="179.7" y2="350.2" stroke="#000" stroke-width="1.7"/>
<line x1="199.1" y1="278.1" x2="199.1" y2="340.1" stroke="#000" stroke-width="1.8"/>
<line x1="196.5" y1="278.1" x2="201.7" y2="278.1" stroke="#000" stroke-width="1.7"/>
<line x1="196.5" y1="340.1" x2="201.7" y2="340.1" stroke="#000" stroke-width="1.7"/>
<line x1="221.0" y1="268.8" x2="221.0" y2="341.0" stroke="#000" stroke-width="1.8"/>
<line x1="218.4" y1="268.8" x2="223.6" y2="268.8" stroke="#000" stroke-width="1.7"/>
<line x1="218.4" y1="341.0" x2="223.6" y2="341.0" stroke="#000" stroke-width="1.7"/>
<line x1="242.5" y1="236.0" x2="242.5" y2="348.0" stroke="#000" stroke-width="1.8"/>
<line x1="239.9" y1="236.0" x2="245.1" y2="236.0" stroke="#000" stroke-width="1.7"/>
<line x1="239.9" y1="348.0" x2="245.1" y2="348.0" stroke="#000" stroke-width="1.7"/>
<line x1="50.6" y1="356.7" x2="263.2" y2="356.7" stroke="#000" stroke-width="1.8"/>
<text transform="translate(149.6,210.3) scale(0.855,1)" font-size="14" text-anchor="middle" fill="#1a1a1a" stroke="#1a1a1a" stroke-width="0.45" opacity="0.999" >Left AI</text>
<text transform="translate(94.5,395.0) scale(0.8,1)" font-size="12" text-anchor="middle" fill="#1a1a1a" stroke="#1a1a1a" stroke-width="0.45" opacity="0.999" >Man</text>
<text transform="translate(202.4,395.0) scale(0.8,1)" font-size="12" text-anchor="middle" fill="#1a1a1a" stroke="#1a1a1a" stroke-width="0.45" opacity="0.999" >Woman</text>
<text transform="translate(30.0,315.8) rotate(-90) scale(0.925,1)" font-size="12.2" text-anchor="middle" fill="#1a1a1a" stroke="#1a1a1a" stroke-width="0.45" opacity="0.999">Beta Estimates</text>
<line x1="470.1" y1="223.1" x2="470.1" y2="391.15000000000003" stroke="#000" stroke-width="1.9"/>
<line x1="470.1" y1="390.35" x2="475.1" y2="390.35" stroke="#000" stroke-width="1.6"/>
<path d="M461.20,387.15 L461.20,394.75 M458.40,388.95 C459.60,388.55 460.50,387.95 460.90,387.25" stroke="#1a1a1a" stroke-width="1.25" fill="none"/>
<line x1="452.60" y1="392.15" x2="457.50" y2="392.15" stroke="#111" stroke-width="1.1"/>
<line x1="470.1" y1="357.06" x2="475.1" y2="357.06" stroke="#000" stroke-width="1.6"/>
<text transform="translate(463.4,361.46) scale(0.85,1)" font-size="10" text-anchor="end" fill="#1a1a1a" stroke="#1a1a1a" stroke-width="0.45" opacity="0.999" >0</text>
<line x1="470.1" y1="323.77" x2="475.1" y2="323.77" stroke="#000" stroke-width="1.6"/>
<path d="M461.20,320.57 L461.20,328.17 M458.40,322.37 C459.60,321.97 460.50,321.37 460.90,320.67" stroke="#1a1a1a" stroke-width="1.25" fill="none"/>
<line x1="470.1" y1="290.48" x2="475.1" y2="290.48" stroke="#000" stroke-width="1.6"/>
<text transform="translate(463.4,294.88) scale(0.85,1)" font-size="10" text-anchor="end" fill="#1a1a1a" stroke="#1a1a1a" stroke-width="0.45" opacity="0.999" >2</text>
<line x1="470.1" y1="257.19" x2="475.1" y2="257.19" stroke="#000" stroke-width="1.6"/>
<text transform="translate(463.4,261.59) scale(0.85,1)" font-size="10" text-anchor="end" fill="#1a1a1a" stroke="#1a1a1a" stroke-width="0.45" opacity="0.999" >3</text>
<line x1="470.1" y1="223.9" x2="475.1" y2="223.9" stroke="#000" stroke-width="1.6"/>
<text transform="translate(463.4,228.3) scale(0.85,1)" font-size="10" text-anchor="end" fill="#1a1a1a" stroke="#1a1a1a" stroke-width="0.45" opacity="0.999" >4</text>
<rect x="481.5" y="341.7" width="15.699999999999989" height="14.360000000000014" fill="#ffffff" stroke="#000" stroke-width="2.0"/>
<rect x="502.6" y="343.3" width="16.100000000000023" height="12.759999999999991" fill="url(#hatch)" stroke="#000" stroke-width="2.0"/>
<rect x="524.0" y="331.1" width="16.899999999999977" height="24.95999999999998" fill="#808080" stroke="#000" stroke-width="2.0"/>
<rect x="546.0" y="280.1" width="16.600000000000023" height="75.95999999999998" fill="url(#dark)" stroke="#000" stroke-width="2.0"/>
<rect x="588.1" y="331.7" width="16.600000000000023" height="24.360000000000014" fill="#ffffff" stroke="#000" stroke-width="2.0"/>
<rect x="610.2" y="330.8" width="16.399999999999977" height="25.25999999999999" fill="url(#hatch)" stroke="#000" stroke-width="2.0"/>
<rect x="632.1" y="322.9" width="16.199999999999932" height="33.160000000000025" fill="#808080" stroke="#000" stroke-width="2.0"/>
<rect x="653.9" y="313.0" width="16.100000000000023" height="43.06" fill="url(#dark)" stroke="#000" stroke-width="2.0"/>
<line x1="489.0" y1="303.8" x2="489.0" y2="377.5" stroke="#000" stroke-width="1.8"/>
<line x1="486.4" y1="303.8" x2="491.6" y2="303.8" stroke="#000" stroke-width="1.7"/>
<line x1="486.4" y1="377.5" x2="491.6" y2="377.5" stroke="#000" stroke-width="1.7"/>
<line x1="510.6" y1="313.5" x2="510.6" y2="370.7" stroke="#000" stroke-width="1.8"/>
<line x1="508.0" y1="313.5" x2="513.2" y2="313.5" stroke="#000" stroke-width="1.7"/>
<line x1="508.0" y1="370.7" x2="513.2" y2="370.7" stroke="#000" stroke-width="1.7"/>
<line x1="532.3" y1="288.6" x2="532.3" y2="371.6" stroke="#000" stroke-width="1.8"/>
<line x1="529.6999999999999" y1="288.6" x2="534.9" y2="288.6" stroke="#000" stroke-width="1.7"/>
<line x1="529.6999999999999" y1="371.6" x2="534.9" y2="371.6" stroke="#000" stroke-width="1.7"/>
<line x1="554.1" y1="244.7" x2="554.1" y2="314.5" stroke="#000" stroke-width="1.8"/>
<line x1="551.5" y1="244.7" x2="556.7" y2="244.7" stroke="#000" stroke-width="1.7"/>
<line x1="551.5" y1="314.5" x2="556.7" y2="314.5" stroke="#000" stroke-width="1.7"/>
<line x1="596.3" y1="306.8" x2="596.3" y2="354.4" stroke="#000" stroke-width="1.8"/>
<line x1="593.6999999999999" y1="306.8" x2="598.9" y2="306.8" stroke="#000" stroke-width="1.7"/>
<line x1="593.6999999999999" y1="354.4" x2="598.9" y2="354.4" stroke="#000" stroke-width="1.7"/>
<line x1="618.2" y1="305.0" x2="618.2" y2="354.4" stroke="#000" stroke-width="1.8"/>
<line x1="615.6" y1="305.0" x2="620.8000000000001" y2="305.0" stroke="#000" stroke-width="1.7"/>
<line x1="615.6" y1="354.4" x2="620.8000000000001" y2="354.4" stroke="#000" stroke-width="1.7"/>
<line x1="640.0" y1="295.7" x2="640.0" y2="354.9" stroke="#000" stroke-width="1.8"/>
<line x1="637.4" y1="295.7" x2="642.6" y2="295.7" stroke="#000" stroke-width="1.7"/>
<line x1="637.4" y1="354.9" x2="642.6" y2="354.9" stroke="#000" stroke-width="1.7"/>
<line x1="662.0" y1="260.1" x2="662.0" y2="363.4" stroke="#000" stroke-width="1.8"/>
<line x1="659.4" y1="260.1" x2="664.6" y2="260.1" stroke="#000" stroke-width="1.7"/>
<line x1="659.4" y1="363.4" x2="664.6" y2="363.4" stroke="#000" stroke-width="1.7"/>
<line x1="469.1" y1="357.06" x2="683.2" y2="357.06" stroke="#000" stroke-width="1.8"/>
<text transform="translate(566.8,210.2) scale(0.85,1)" font-size="14" text-anchor="middle" fill="#1a1a1a" stroke="#1a1a1a" stroke-width="0.45" opacity="0.999" >Right AI</text>
<text transform="translate(514.5,395.0) scale(0.8,1)" font-size="12" text-anchor="middle" fill="#1a1a1a" stroke="#1a1a1a" stroke-width="0.45" opacity="0.999" >Man</text>
<text transform="translate(625.5,395.0) scale(0.8,1)" font-size="12" text-anchor="middle" fill="#1a1a1a" stroke="#1a1a1a" stroke-width="0.45" opacity="0.999" >Woman</text>
<text transform="translate(449.2,316.2) rotate(-90) scale(0.925,1)" font-size="12.2" text-anchor="middle" fill="#1a1a1a" stroke="#1a1a1a" stroke-width="0.45" opacity="0.999">Beta Estimates</text>
<rect x="512.2" y="46.699999999999996" width="26.2" height="12.2" fill="#ffffff" stroke="#000" stroke-width="1.9"/>
<text transform="translate(543.4,57.0) scale(0.85,1)" font-size="10.5" fill="#1a1a1a" stroke="#1a1a1a" stroke-width="0.45" opacity="0.999">UA<tspan font-style="italic">lp</tspan></text>
<rect x="512.2" y="73.80000000000001" width="26.2" height="12.2" fill="url(#hatch)" stroke="#000" stroke-width="1.9"/>
<text transform="translate(543.4,84.10000000000001) scale(0.85,1)" font-size="10.5" fill="#1a1a1a" stroke="#1a1a1a" stroke-width="0.45" opacity="0.999">UR<tspan font-style="italic">lp</tspan></text>
<rect x="512.2" y="100.9" width="26.2" height="12.2" fill="#808080" stroke="#000" stroke-width="1.9"/>
<text transform="translate(543.4,111.2) scale(0.85,1)" font-size="10.5" fill="#1a1a1a" stroke="#1a1a1a" stroke-width="0.45" opacity="0.999">UA<tspan font-style="italic">hp</tspan></text>
<rect x="512.2" y="128.0" width="26.2" height="12.2" fill="url(#dark)" stroke="#000" stroke-width="1.9"/>
<text transform="translate(543.4,138.3) scale(0.85,1)" font-size="10.5" fill="#1a1a1a" stroke="#1a1a1a" stroke-width="0.45" opacity="0.999">UR<tspan font-style="italic">hp</tspan></text>
</svg>
</body></html>
